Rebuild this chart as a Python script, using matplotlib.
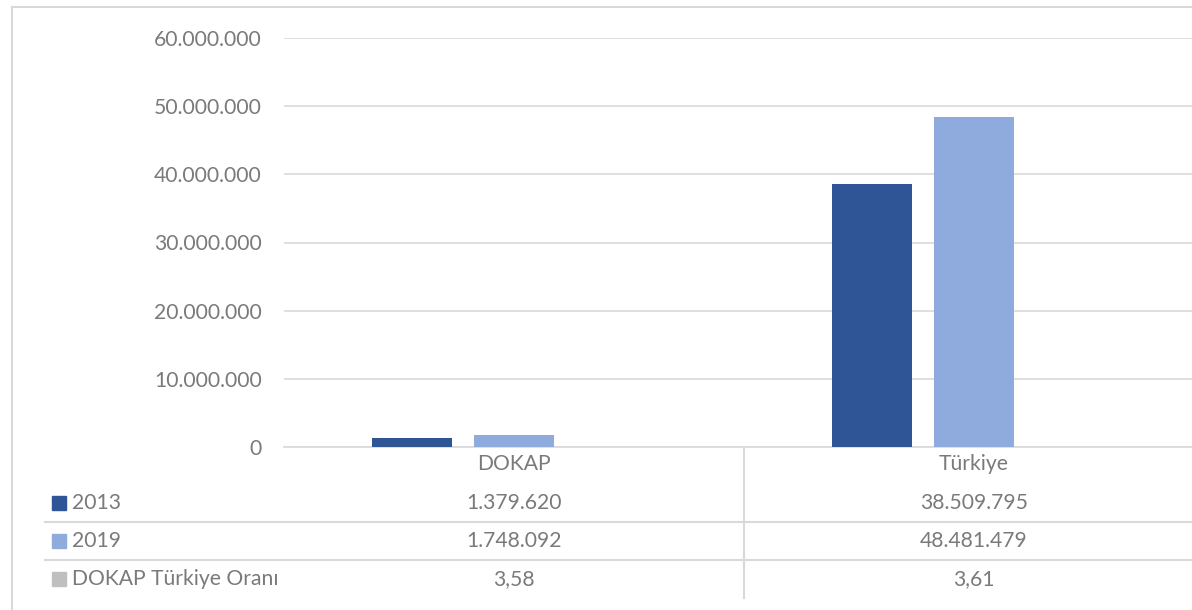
# DOKAP / Türkiye chart with data table

import numpy as np
import matplotlib.pyplot as plt
from matplotlib.patches import Rectangle
from matplotlib.transforms import blended_transform_factory

plt.rcParams["font.family"] = ["Lato", "DejaVu Sans"]

# data
categories = ["DOKAP", "Türkiye"]
series_names = ["2013", "2019", "DOKAP Türkiye Oranı"]
values_2013 = [1379620, 38509795]
values_2019 = [1748092, 48481479]
values_ratio = [3.58, 3.61]
ratio_labels = ["3,58", "3,61"]
colors = ["#2F5597", "#8FAADC", "#BFBFBF"]

W, H = 1192, 610
TEXT = "#7A7A7A"
GRID = "#D9D9D9"
FS = 15.2


def tr_num(v):
    return f"{v:,.0f}".replace(",", ".")


fig = plt.figure(figsize=(W / 100, H / 100), dpi=100)

# plot area (right edge runs past the image like the cropped original)
left, right, bottom, top = 284, 1204, 447, 38
ax = fig.add_axes([left / W, 1 - bottom / H, (right - left) / W, (bottom - top) / H])

x = np.arange(len(categories))
width = 0.222
all_series = [values_2013, values_2019, values_ratio]
for i, vals in enumerate(all_series):
    ax.bar(x + (i - 1) * width, vals, width * 0.79, color=colors[i], zorder=3)

ax.set_xlim(-0.5, len(categories) - 0.5)
ax.set_ylim(0, 60000000)
ax.set_yticks(np.arange(0, 60000001, 10000000))
ax.set_yticklabels([tr_num(v) for v in ax.get_yticks()])
ax.tick_params(axis="y", length=0, pad=16, labelsize=FS, labelcolor=TEXT)
ax.set_xticks([])
ax.grid(axis="y", color=GRID, lw=1.2, zorder=0)
for s in ["top", "right", "left"]:
    ax.spines[s].set_visible(False)
ax.spines["bottom"].set_color(GRID)
ax.spines["bottom"].set_linewidth(1.2)

# data table under the plot
def fy(py):
    return 1 - py / H


tr = blended_transform_factory(ax.transData, fig.transFigure)
row_y = [503, 541, 579]
row_values = [
    [tr_num(v) for v in values_2013],
    [tr_num(v) for v in values_2019],
    ratio_labels,
]
for j, cat in enumerate(categories):
    ax.text(x[j], fy(464), cat, transform=tr, ha="center", va="center",
            fontsize=FS, color=TEXT, clip_on=False)
    for r in range(3):
        ax.text(x[j], fy(row_y[r]), row_values[r][j], transform=tr, ha="center",
                va="center", fontsize=FS, color=TEXT, clip_on=False)

for r, name in enumerate(series_names):
    fig.patches.append(Rectangle((52 / W, fy(row_y[r] + 7)), 14 / W, 14 / H,
                                 transform=fig.transFigure, color=colors[r]))
    fig.text(72 / W, fy(row_y[r]), name, ha="left", va="center",
             fontsize=FS, color=TEXT)

# table grid lines
for py in [522, 560]:
    fig.add_artist(plt.Line2D([45 / W, 1], [fy(py), fy(py)], color=GRID, lw=1.5))
sep_x = (ax.transData.transform((0.5, 0))[0]) / W
fig.add_artist(plt.Line2D([sep_x, sep_x], [fy(447), fy(598)], color=GRID, lw=1.5))

# chart border
fig.add_artist(plt.Line2D([12 / W, 1], [fy(7), fy(7)], color=GRID, lw=1.5))
fig.add_artist(plt.Line2D([12 / W, 12 / W], [fy(7), 0], color=GRID, lw=1.5))

fig.savefig("out.png", dpi=100)
